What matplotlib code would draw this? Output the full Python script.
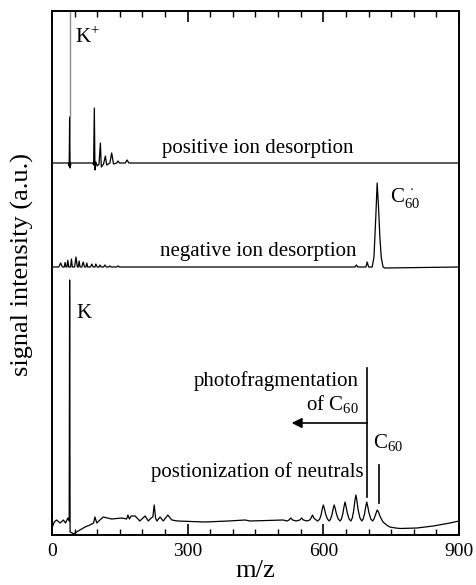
import matplotlib
matplotlib.use("Agg")
import matplotlib.pyplot as plt
from matplotlib.ticker import MultipleLocator

plt.rcParams['font.family'] = ['Liberation Serif', 'DejaVu Serif']
plt.rcParams['mathtext.fontset'] = 'custom'
plt.rcParams['mathtext.rm'] = 'Liberation Serif'

# positive ion desorption (m/z, height above its baseline)
pos_mz = [0, 30, 36, 38, 39, 40, 42, 60, 80, 90, 92, 93.6, 95, 97, 100, 104, 107, 109,
          114, 118, 121, 128, 132, 136, 143, 146, 149, 162, 166, 170, 200, 300, 500, 700, 900]
pos_h = [0, 0, 0, -3, 46, -5, 0, 0, 0, 0, -2, 55, -7, 1, -3, -1, 20, -4,
         -1, 7, -2, 0, 10, -1, 0, 2, 0, 0, 3, 0, 0, 0, 0, 0, 0]

# negative ion desorption
neg_mz = [0, 15, 19, 23, 27, 29, 31, 33, 35, 37, 41, 43, 45, 50, 53, 56, 58, 60, 62, 66, 69, 72,
          75, 77, 79, 85, 88, 91, 95, 97, 100, 104, 106, 109, 114, 117, 120, 125, 128, 131, 143, 146,
          149, 300, 660, 670, 673, 676, 690, 694, 697, 700, 708, 712, 716, 719, 722, 725, 728, 732, 736, 900]
neg_h = [0, 0, 4, 0, 0, 4.5, 0, 0, 6.7, 0, 0, 8, 0, 0, 10, 0, 0, 6, 0, 0, 5, 0,
         0, 4, 0, 0, 3, 0, 0, 3, 0, 0, 2, 0, 0, 2, 0, 0, 1, 0, 0, 1,
         0, 0, 0, 0, 2, 0, 0, 0, 5, 0, 0, 10, 50, 84, 60, 30, 10, 0, -1, 0]

# postionization of neutrals (height above the axis floor)
neu_mz = [0, 5, 10, 18, 25, 30, 35, 38, 39, 40, 45, 47, 58, 73, 84, 92, 95, 99, 106, 113, 132,
          154, 165, 168, 171, 175, 184, 194, 206, 213, 219, 223, 226, 229, 232, 239, 246, 256, 265,
          278, 338, 390, 427, 438, 511, 520, 524, 528, 532, 540, 548, 552, 556, 564, 570, 573, 576,
          579, 584, 588, 592, 595, 598, 600, 602, 605, 609, 613, 616, 619, 622, 624, 626, 629, 633,
          637, 640, 643, 646, 648, 650, 653, 657, 661, 664, 667, 670, 672, 674, 677, 681, 685, 688,
          691, 694, 696, 698, 701, 705, 709, 712, 716, 719, 722, 726, 732, 740, 747, 760, 770, 807,
          843, 880, 900]
neu_h = [7, 13, 15, 12, 15, 12, 17, 14, 255, 3, 2, 1, 4, 8, 10, 12, 18, 12, 15, 18, 16,
         17, 16, 20, 16, 19, 19, 14, 19, 14, 17, 18, 30, 17, 14, 18, 14, 20, 15,
         14, 13, 14, 15, 14, 15, 14, 15, 17, 15, 14, 15, 17, 15, 14, 15, 17, 20,
         17, 15, 14, 16, 20, 27, 30, 27, 21, 16, 14, 16, 20, 27, 30, 27, 21, 16,
         14, 16, 21, 29, 33, 29, 22, 16, 14, 17, 24, 35, 40, 35, 25, 17, 14, 16,
         21, 29, 33, 29, 22, 16, 14, 16, 21, 25, 23, 18, 13, 10, 8, 7, 6.5, 7,
         9, 12, 14]

k_mass = 39
pos_base, neg_base = 372, 268

fig = plt.figure(figsize=(4.76, 5.85), dpi=100)
ax = fig.add_axes([52 / 476, 50 / 585, 407 / 476, 524 / 585])
ax.set_xlim(0, 900)
ax.set_ylim(0, 524)

ax.plot(pos_mz, [pos_base + h for h in pos_h], color='black', lw=0.9)
ax.plot([k_mass, k_mass], [pos_base + 46, 530], color='0.55', lw=1.0)
ax.plot(neg_mz, [neg_base + h for h in neg_h], color='black', lw=0.9)
ax.plot(neu_mz, neu_h, color='black', lw=0.9)

# markers for C60 fragments
ax.plot([696, 696], [38, 167], color='black', lw=1.2)
ax.plot([722, 722], [32, 70], color='black', lw=1.2)
ax.annotate('', xy=(530, 112), xytext=(697, 112),
            arrowprops=dict(arrowstyle='-|>', color='black', lw=1.2,
                            mutation_scale=15, shrinkA=0, shrinkB=0))

fs = 15
ax.text(243, 382, 'positive ion desorption', fontsize=fs, va='baseline')
ax.text(239, 279, 'negative ion desorption', fontsize=fs, va='baseline')
ax.text(51, 492, r'K$^{+}$', fontsize=fs, va='baseline')
ax.text(55, 217, 'K', fontsize=fs, va='baseline')
ax.text(747, 333, r'C$_{60}^{\,\cdot}$', fontsize=fs, va='baseline')
ax.text(678, 149, 'photofragmentation', fontsize=fs, va='baseline', ha='right')
ax.text(678, 125, r'of C$_{60}$', fontsize=fs, va='baseline', ha='right')
ax.text(710, 87, r'C$_{60}$', fontsize=fs, va='baseline')
ax.text(688, 58, 'postionization of neutrals', fontsize=fs, va='baseline', ha='right')

ax.xaxis.set_major_locator(MultipleLocator(300))
ax.xaxis.set_minor_locator(MultipleLocator(50))
ax.tick_params(axis='x', which='both', direction='in', top=True, labelsize=14, pad=6)
ax.tick_params(axis='x', which='major', length=8, width=1.2)
ax.tick_params(axis='x', which='minor', length=4, width=1.0)
ax.set_yticks([])
for s in ax.spines.values():
    s.set_linewidth(1.4)

ax.set_xlabel('m/z', fontsize=19, labelpad=0)
ax.set_ylabel('signal intensity (a.u.)', fontsize=19)
ax.yaxis.set_label_coords(-0.045, 0.517)

fig.savefig('out.png', dpi=100)
